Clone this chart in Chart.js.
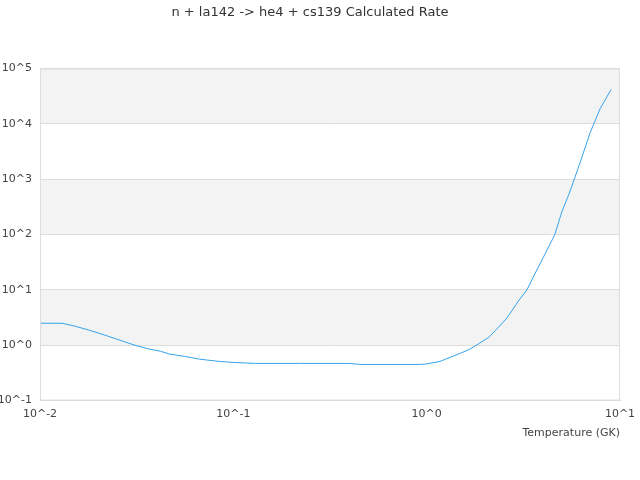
<!DOCTYPE html>
<html>
<head>
<meta charset="utf-8">
<script src="https://cdn.jsdelivr.net/npm/chart.js@4.4.0/dist/chart.umd.min.js"></script>
<style>
  html, body { margin: 0; padding: 0; background: #fff; }
  #wrap { width: 640px; height: 480px; }
</style>
</head>
<body>
<div id="wrap"><canvas id="myChart"></canvas></div>
<script>
// Temperaturas (GK) y tasa calculada
const temperaturas = [0.01, 0.013, 0.0152, 0.018, 0.0217, 0.026, 0.031, 0.037, 0.042, 0.047, 0.056, 0.067, 0.085, 0.1, 0.13, 0.22, 0.4, 0.45, 0.92, 1.0, 1.17, 1.25, 1.5, 1.67, 1.84, 2.1, 2.3, 2.6, 3.0, 3.3, 3.6, 4.0, 4.6, 5.0, 5.5, 6.2, 7.0, 7.9, 9.0];
const tasas = [2.5, 2.5, 2.21, 1.87, 1.52, 1.23, 1.0, 0.85, 0.78, 0.69, 0.63, 0.56, 0.51, 0.49, 0.47, 0.47, 0.47, 0.45, 0.45, 0.46, 0.51, 0.56, 0.72, 0.85, 1.04, 1.4, 1.95, 3.1, 6.5, 10, 18.5, 38, 100, 257, 590, 1950, 6900, 19000, 42000];

// Marcas de los ejes (décadas)
const ticksX = [0.01, 0.1, 1, 10];
const ticksY = [0.1, 1, 10, 100, 1000, 10000, 100000];
const bandas = [[1, 10], [100, 1000], [10000, 100000]];

const etiquetaPotencia = v => '10^' + Math.round(Math.log10(v));

// Plugin para las bandas grises y el marco del área
const fondoBandas = {
    id: 'fondoBandas',
    beforeDraw(chart) {
        const { ctx, chartArea, scales } = chart;
        ctx.save();
        ctx.fillStyle = '#f3f3f3';
        bandas.forEach(([a, b]) => {
            const y1 = scales.y.getPixelForValue(b);
            const y2 = scales.y.getPixelForValue(a);
            ctx.fillRect(chartArea.left, y1, chartArea.right - chartArea.left, y2 - y1);
        });
        ctx.restore();
    },
    afterDraw(chart) {
        const { ctx, chartArea } = chart;
        ctx.save();
        ctx.strokeStyle = '#dddddd';
        ctx.lineWidth = 1;
        ctx.strokeRect(chartArea.left + 0.5, chartArea.top + 0.5,
            chartArea.right - chartArea.left - 1, chartArea.bottom - chartArea.top - 1);
        ctx.restore();
    }
};

Chart.defaults.font.family = 'DejaVu Sans';
Chart.defaults.color = '#444';

const ctx = document.getElementById('myChart').getContext('2d');
new Chart(ctx, {
    type: 'line',
    data: {
        datasets: [{
            label: 'Rate',
            data: temperaturas.map((t, i) => ({ x: t, y: tasas[i] })),
            borderColor: 'rgb(54, 162, 235)',
            borderWidth: 1,
            pointRadius: 0,
            tension: 0,
            fill: false
        }]
    },
    options: {
        responsive: true,
        maintainAspectRatio: false,
        animation: false,
        layout: { padding: { left: 0, right: 20, top: 0, bottom: 40 } },
        plugins: {
            legend: { display: false },
            tooltip: { enabled: false },
            title: {
                display: true,
                text: 'n + la142 -> he4 + cs139 Calculated Rate',
                font: { size: 13, weight: 'normal' },
                color: '#333',
                padding: { top: 5, bottom: 48 }
            }
        },
        scales: {
            x: {
                type: 'logarithmic',
                min: 0.01,
                max: 10,
                afterBuildTicks: axis => { axis.ticks = ticksX.map(v => ({ value: v })); },
                afterFit: axis => { axis.paddingRight = 0; axis.paddingLeft = 0; },
                ticks: {
                    callback: etiquetaPotencia,
                    maxRotation: 0,
                    padding: 7,
                    font: { size: 11 }
                },
                grid: { display: false, drawTicks: false },
                border: { color: '#dddddd' },
                title: {
                    display: true,
                    text: 'Temperature (GK)',
                    align: 'end',
                    font: { size: 11 },
                    padding: { top: -1, bottom: 0 }
                }
            },
            y: {
                type: 'logarithmic',
                min: 0.1,
                max: 100000,
                afterBuildTicks: axis => { axis.ticks = ticksY.map(v => ({ value: v })); },
                afterFit: axis => { axis.width = 40; },
                ticks: {
                    callback: etiquetaPotencia,
                    padding: 8,
                    font: { size: 11 }
                },
                grid: { color: '#dddddd', drawTicks: false },
                border: { color: '#dddddd' }
            }
        }
    },
    plugins: [fondoBandas]
});
</script>
</body>
</html>
